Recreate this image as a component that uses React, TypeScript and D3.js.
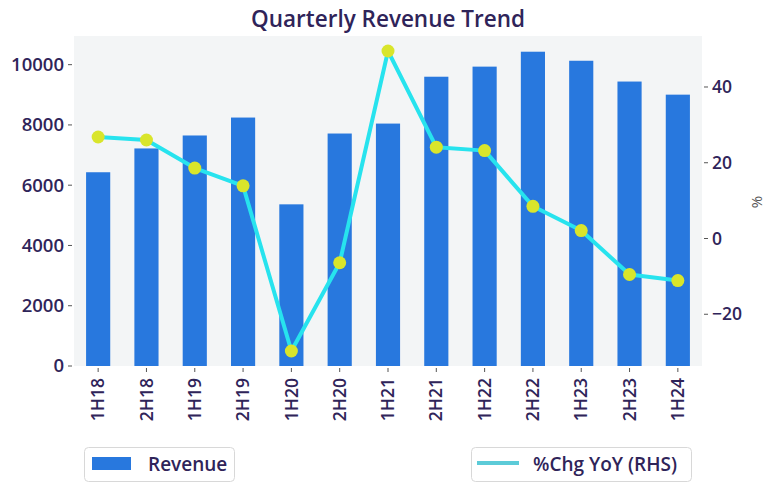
import * as d3 from 'd3';

const periods = ['1H18', '2H18', '1H19', '2H19', '1H20', '2H20', '1H21', '2H21', '1H22', '2H22', '1H23', '2H23', '1H24'];
const revenue = [6430, 7220, 7650, 8245, 5365, 7715, 8045, 9600, 9935, 10430, 10130, 9440, 9005];
const yoyChange = [26.8, 26.0, 18.6, 13.9, -29.7, -6.4, 49.5, 24.1, 23.2, 8.5, 2.1, -9.5, -11.1];
const leftTicks = [0, 2000, 4000, 6000, 8000, 10000];
const rightTicks = [-20, 0, 20, 40];

const W = 778;
const H = 492;
const plot = { left: 74, right: 702, top: 36, bottom: 366 };
const ink = '#2f2459';
const font = '"Open Sans", Lato, sans-serif';

export default function App() {
  const x = d3.scaleBand().domain(periods).range([plot.left, plot.right]).paddingInner(0).paddingOuter(0);
  const barW = x.bandwidth() * 0.5;
  const yL = d3.scaleLinear().domain([0, 10430 * 1.05]).range([plot.bottom, plot.top]);
  const yMin = d3.min(yoyChange) as number;
  const yMax = d3.max(yoyChange) as number;
  const pad = (yMax - yMin) * 0.05;
  const yR = d3.scaleLinear().domain([yMin - pad, yMax + pad]).range([plot.bottom, plot.top]);
  const cx = (p: string) => (x(p) as number) + x.bandwidth() / 2;

  const line = d3
    .line<number>()
    .x((_, i) => cx(periods[i]))
    .y((d) => yR(d));

  return (
    <svg width={W} height={H} style={{ position: 'absolute', left: 0, top: 0 }} fontFamily={font}>
      <rect x={0} y={0} width={W} height={H} fill="#ffffff" />
      <text x={388} y={27} textAnchor="middle" fontSize={22.5} fontWeight={600} fill={ink}>
        Quarterly Revenue Trend
      </text>
      <rect x={plot.left} y={plot.top} width={plot.right - plot.left} height={plot.bottom - plot.top} fill="#f3f5f6" />

      {periods.map((p, i) => (
        <rect key={p} x={cx(p) - barW / 2} y={yL(revenue[i])} width={barW} height={plot.bottom - yL(revenue[i])} fill="#2878de" />
      ))}

      <path d={line(yoyChange) || ''} fill="none" stroke="#27e3ee" strokeWidth={4} strokeLinejoin="round" />
      {yoyChange.map((v, i) => (
        <circle key={i} cx={cx(periods[i])} cy={yR(v)} r={6.5} fill="#d9e52b" />
      ))}

      {/* left axis */}
      {leftTicks.map((t) => (
        <g key={t}>
          <line x1={plot.left - 6} x2={plot.left - 2} y1={yL(t)} y2={yL(t)} stroke="#555" strokeWidth={1} />
          <text x={plot.left - 10} y={yL(t)} dy="0.35em" textAnchor="end" fontSize={18.5} fontWeight={600} fill={ink}>
            {t}
          </text>
        </g>
      ))}

      {/* right axis */}
      {rightTicks.map((t) => (
        <g key={t}>
          <line x1={plot.right + 2} x2={plot.right + 6} y1={yR(t)} y2={yR(t)} stroke="#555" strokeWidth={1} />
          <text x={plot.right + 10} y={yR(t)} dy="0.35em" textAnchor="start" fontSize={17.5} fontWeight={600} fill={ink}>
            {t < 0 ? '\u2212' + Math.abs(t) : t}
          </text>
        </g>
      ))}
      <text transform={`translate(762,202) rotate(-90)`} textAnchor="middle" fontSize={15} fill="#555">
        %
      </text>

      {/* x axis */}
      {periods.map((p) => (
        <g key={p}>
          <line x1={cx(p)} x2={cx(p)} y1={plot.bottom + 2} y2={plot.bottom + 6} stroke="#555" strokeWidth={1} />
          <text
            transform={`translate(${cx(p)},${plot.bottom + 12}) rotate(-90)`}
            textAnchor="end"
            dy="0.35em"
            fontSize={17.5}
            fontWeight={600}
            fill={ink}
          >
            {p}
          </text>
        </g>
      ))}

      {/* legends */}
      <rect x={84.5} y={447.5} width={150} height={34} rx={4} fill="#fff" stroke="#d8d8d8" />
      <rect x={92} y={457} width={39} height={13} fill="#2878de" />
      <text x={148} y={464} dy="0.35em" fontSize={19} fontWeight={600} fill={ink}>
        Revenue
      </text>

      <rect x={471.5} y={447.5} width={220} height={34} rx={4} fill="#fff" stroke="#d8d8d8" />
      <line x1={477} x2={519} y1={463} y2={463} stroke="#5ccbd8" strokeWidth={4} />
      <text x={533} y={464} dy="0.35em" fontSize={19} fontWeight={600} fill={ink}>
        %Chg YoY (RHS)
      </text>
    </svg>
  );
}
